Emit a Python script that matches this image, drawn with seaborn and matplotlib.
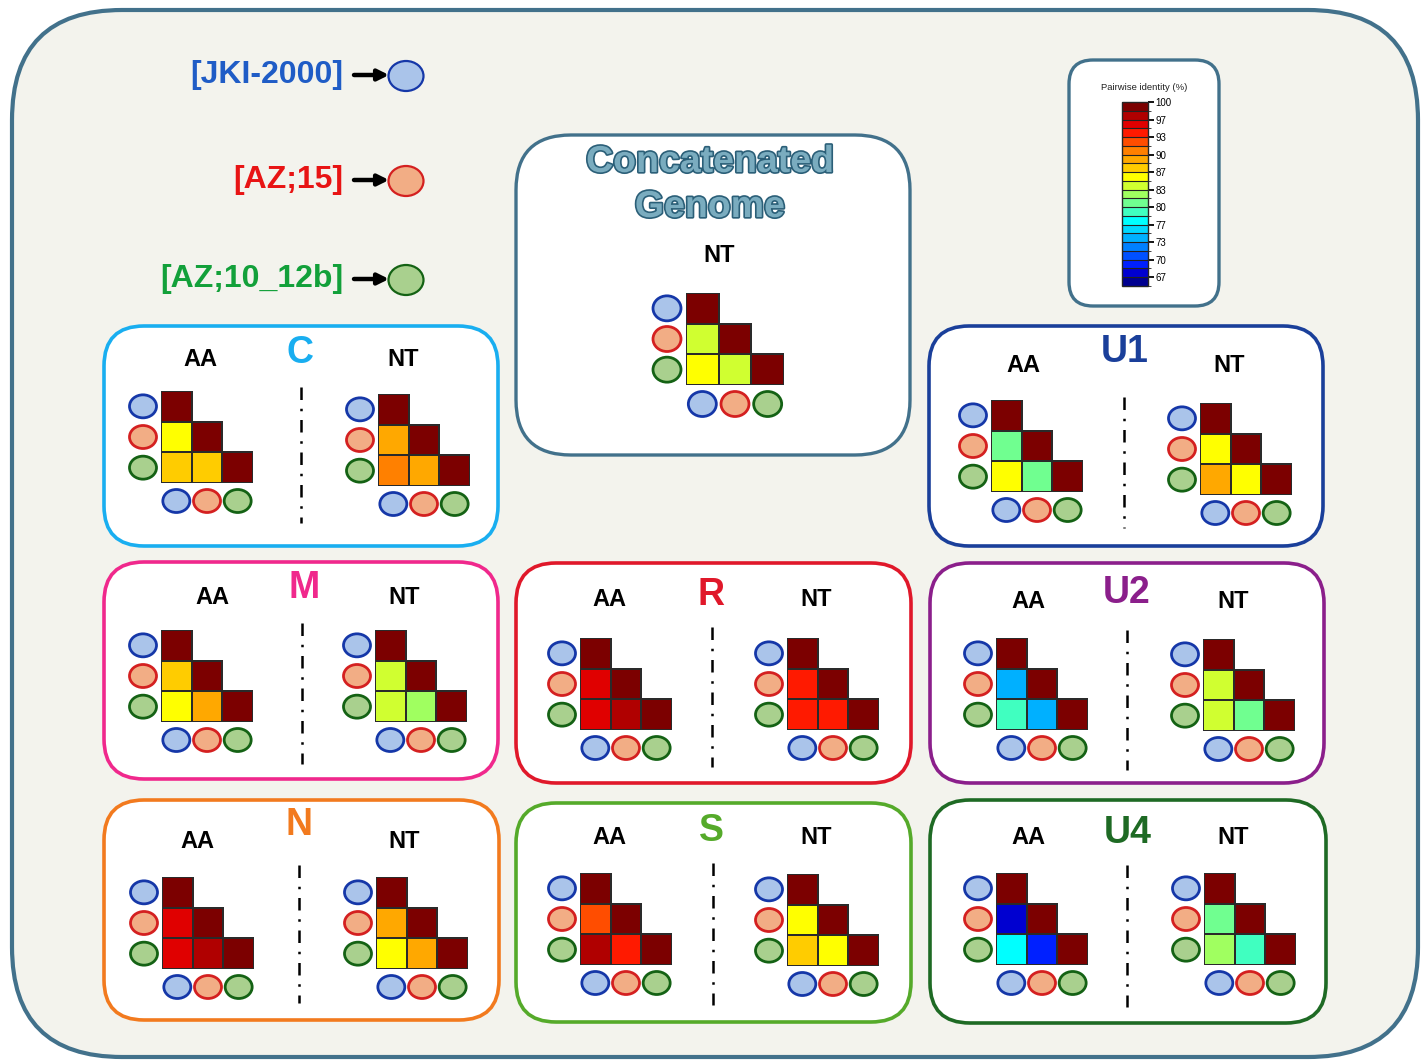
import numpy as np
import pandas as pd
import seaborn as sns
import matplotlib
matplotlib.use("Agg")
import matplotlib.pyplot as plt
from matplotlib.patches import FancyBboxPatch, Ellipse
from matplotlib.colors import ListedColormap, BoundaryNorm
from matplotlib.cm import ScalarMappable
import matplotlib.patheffects as pe

# ---------------------------------------------------------------- data
genomes = ["JKI-2000", "AZ;15", "AZ;10_12b"]
genome_labels = ["[JKI-2000]", "[AZ;15]", "[AZ;10_12b]"]

# pairwise identity (%) for: AZ;15 vs JKI-2000, AZ;10_12b vs JKI-2000, AZ;10_12b vs AZ;15
concat_NT = [84.2, 85.8, 84.2]
C_AA = [86.0, 87.2, 88.0]
C_NT = [88.8, 91.0, 89.3]
M_AA = [88.0, 86.0, 89.5]
M_NT = [84.5, 84.5, 82.8]
N_AA = [95.8, 95.5, 97.0]
N_NT = [89.0, 86.0, 89.0]
R_AA = [96.0, 95.5, 97.8]
R_NT = [94.0, 93.6, 94.2]
S_AA = [92.5, 97.6, 94.5]
S_NT = [86.5, 87.5, 86.0]
U1_AA = [80.5, 86.3, 80.5]
U1_NT = [85.9, 89.4, 86.0]
U2_AA = [74.0, 79.0, 73.8]
U2_NT = [84.3, 84.0, 81.2]
U4_AA = [67.4, 77.2, 69.3]
U4_NT = [80.3, 82.4, 78.8]

segments = ["C", "M", "N", "R", "S", "U1", "U2", "U4"]
segment_values = {
    "C": (C_AA, C_NT), "M": (M_AA, M_NT), "N": (N_AA, N_NT),
    "R": (R_AA, R_NT), "S": (S_AA, S_NT), "U1": (U1_AA, U1_NT),
    "U2": (U2_AA, U2_NT), "U4": (U4_AA, U4_NT),
}

# colour scale: 21 bands between 65 % and 100 %
band_colors = [
    "#000090", "#0000d0", "#0020ff", "#0050ff", "#0080ff", "#00b0ff", "#00d8ff",
    "#00ffff", "#40ffc0", "#70ff90", "#a0ff60", "#d0ff30", "#ffff00", "#ffcc00",
    "#ffa800", "#ff8000", "#ff4d00", "#ff1a00", "#e00000", "#b00000", "#7c0000",
]
scale_min, scale_max = 65.0, 100.0
tick_values = [100, 96.67, 93.33, 90, 86.67, 83.33, 80, 76.67, 73.33, 70, 66.67]
tick_labels = ["100", "97", "93", "90", "87", "83", "80", "77", "73", "70", "67"]

# ---------------------------------------------------------------- style
sns.set_style("white")
plt.rcParams["font.family"] = ["Liberation Sans", "DejaVu Sans"]

W, H = 1427, 1061
fig = plt.figure(figsize=(W / 100, H / 100), dpi=100, facecolor="white")
ax = fig.add_axes([0, 0, 1, 1])
ax.set_xlim(0, W)
ax.set_ylim(H, 0)
ax.axis("off")

cmap = ListedColormap(band_colors)
levels = np.linspace(scale_min, scale_max, len(band_colors) + 1)
norm = BoundaryNorm(levels, cmap.N)

circle_style = [
    ("#aac4ea", "#1537a8"),
    ("#f2ad85", "#d42020"),
    ("#a9d08e", "#146214"),
]
label_colors = ["#1f5cc6", "#e81414", "#12a03a"]


def rounded_box(x0, y0, x1, y1, r, ec, fc="white", lw=2.4, z=1):
    ax.add_patch(FancyBboxPatch((x0, y0), x1 - x0, y1 - y0,
                                boxstyle=f"round,pad=0,rounding_size={r}",
                                ec=ec, fc=fc, lw=lw, zorder=z))


def marker(x, y, k, w=27, h=23, lw=2.0):
    fc, ec = circle_style[k]
    ax.add_patch(Ellipse((x, y), w, h, fc=fc, ec=ec, lw=lw, zorder=3))


def identity_heatmap(vals, left, top, w=92, h=92, gap=18, cw=27, ch=23):
    m = np.full((3, 3), 100.0)
    m[1, 0], m[2, 0], m[2, 1] = vals
    df = pd.DataFrame(m, index=genomes, columns=genomes)
    mask = np.triu(np.ones((3, 3), dtype=bool), k=1)
    hax = fig.add_axes([left / W, 1 - (top + h) / H, w / W, h / H])
    sns.heatmap(df, mask=mask, cmap=cmap, vmin=scale_min, vmax=scale_max,
                cbar=False, linewidths=1.3, linecolor="#2a2a2a",
                xticklabels=False, yticklabels=False, ax=hax)
    # only the lower triangle keeps its cell borders
    mesh = hax.collections[0]
    mesh.set_edgecolor([(0, 0, 0, 0) if mk else "#2a2a2a"
                        for mk in mask.ravel()])
    hax.patch.set_alpha(0)
    hax.set_xlabel("")
    hax.set_ylabel("")
    for i in range(3):
        marker(left - gap, top + (i + 0.5) * h / 3, i, cw, ch)
        marker(left + (i + 0.5) * w / 3, top + h + gap, i, cw, ch)


# ---------------------------------------------------------------- frame
rounded_box(12, 10, 1418, 1057, 110, "#42718b", fc="#f3f3ed", lw=3.0, z=0)

# genome key
key_y = [75, 180, 279]
for k, (lab, y) in enumerate(zip(genome_labels, key_y)):
    ax.text(343, y, lab, ha="right", va="center", fontsize=23,
            fontweight="bold", color=label_colors[k], zorder=3)
    ax.annotate("", xy=(389, y), xytext=(354, y),
                arrowprops=dict(arrowstyle="-|>", lw=3.2, color="black",
                                mutation_scale=16, shrinkA=0, shrinkB=0))
    marker(406, y + 1, k, w=35, h=30, lw=1.6)

# concatenated genome panel
rounded_box(516, 135, 910, 455, 55, "#42718b", lw=2.4)
for txt, y in [("Concatenated", 162), ("Genome", 207)]:
    ax.text(710, y, txt, ha="center", va="center", fontsize=27,
            fontweight="bold", color="#7aacbf", zorder=3,
            path_effects=[pe.withStroke(linewidth=2.4, foreground="#2b5f78")])
ax.text(719, 256, "NT", ha="center", va="center", fontsize=17,
        fontweight="bold", color="black")
identity_heatmap(concat_NT, 686, 293, w=98, h=92, gap=19, cw=28, ch=25)

# colour scale panel
rounded_box(1069, 60, 1219, 306, 24, "#42718b", lw=2.4)
ax.text(1144, 88, "Pairwise identity (%)", ha="center", va="center",
        fontsize=6.8, color="#222222")
cax = fig.add_axes([1122 / W, 1 - 286 / H, 26 / W, 184 / H])
cb = fig.colorbar(ScalarMappable(norm=norm, cmap=cmap), cax=cax,
                  drawedges=True, ticks=tick_values)
cb.ax.set_yticklabels(tick_labels)
cb.ax.tick_params(labelsize=7, length=4, width=1.3, pad=1.5, colors="black")
cb.outline.set_linewidth(1.0)
cb.dividers.set_linewidth(0.8)
cb.dividers.set_color("#222222")

# segment panels: box, title pos, AA label pos, NT label pos,
# divider (x, y0, y1), AA heatmap top-left, NT heatmap top-left, colour
panels = {
    "C":  ((104, 326, 498, 546), (300, 353), (200, 360), (403, 360),
           (301, 387, 523), (161, 391), (378, 394), "#19aef0"),
    "M":  ((104, 562, 498, 779), (304, 588), (212, 597), (404, 597),
           (302, 623, 764), (161, 630), (375, 630), "#f0288c"),
    "N":  ((104, 800, 499, 1020), (299, 825), (197, 842), (404, 842),
           (299, 865, 1003), (162, 877), (376, 877), "#f27a1e"),
    "R":  ((516, 563, 911, 783), (711, 595), (609, 600), (816, 600),
           (712, 627, 767), (580, 638), (787, 638), "#e0182a"),
    "S":  ((516, 803, 911, 1022), (711, 831), (609, 837), (816, 837),
           (713, 863, 1005), (580, 873), (787, 874), "#55aa2a"),
    "U1": ((929, 326, 1323, 546), (1125, 352), (1023, 366), (1229, 366),
           (1124, 397, 528), (991, 400), (1200, 403), "#1a3f9a"),
    "U2": ((930, 563, 1324, 783), (1127, 593), (1028, 602), (1233, 602),
           (1127, 630, 770), (996, 638), (1203, 639), "#8b1f8b"),
    "U4": ((930, 800, 1326, 1023), (1128, 833), (1028, 838), (1233, 838),
           (1127, 865, 1007), (996, 873), (1204, 873), "#1e6a24"),
}

for seg in segments:
    box, tpos, aapos, ntpos, divider, aa_lt, nt_lt, col = panels[seg]
    rounded_box(*box, 40, col, lw=2.6)
    ax.text(*tpos, seg, ha="center", va="center", fontsize=27,
            fontweight="bold", color=col, zorder=3)
    ax.text(*aapos, "AA", ha="center", va="center", fontsize=17,
            fontweight="bold", color="black", zorder=3)
    ax.text(*ntpos, "NT", ha="center", va="center", fontsize=17,
            fontweight="bold", color="black", zorder=3)
    dx, dy0, dy1 = divider
    ax.plot([dx, dx], [dy0, dy1], color="black", lw=1.8,
            linestyle=(0, (5, 3.5, 1, 3.5)), zorder=3)
    aa_vals, nt_vals = segment_values[seg]
    identity_heatmap(aa_vals, *aa_lt)
    identity_heatmap(nt_vals, *nt_lt)

fig.savefig("out.png", dpi=100, facecolor="white")
